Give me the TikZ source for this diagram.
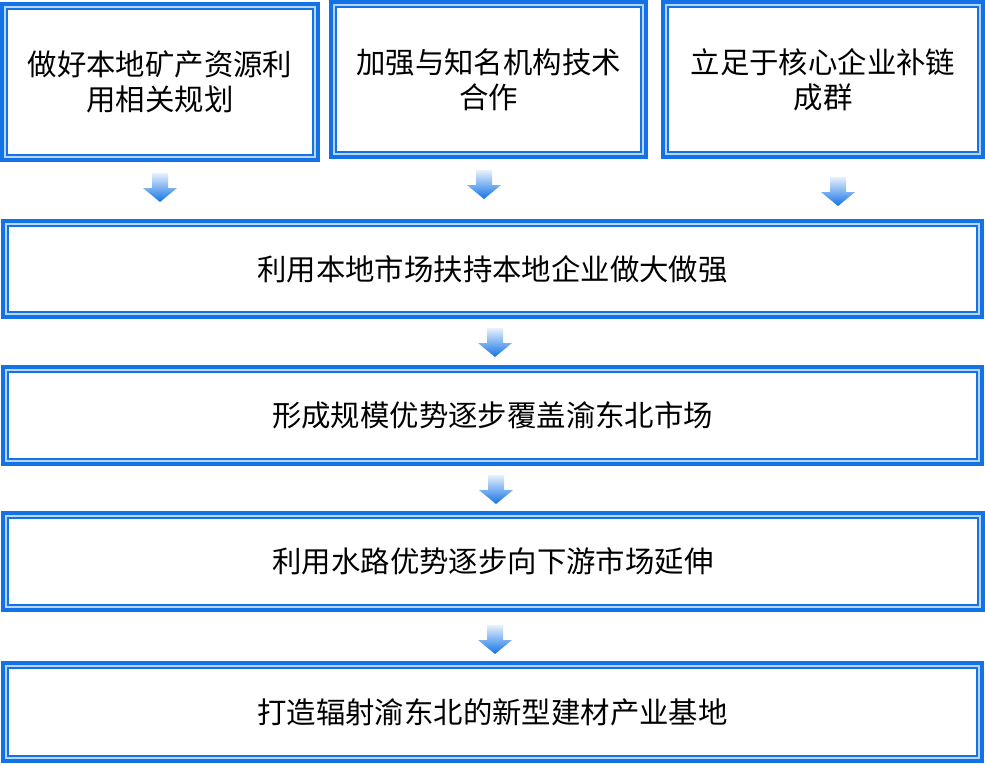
\documentclass[tikz,border=0pt]{standalone}
\usepackage{fontspec}
\newfontfamily\cjk{Noto Sans CJK SC}
\usetikzlibrary{calc}
\definecolor{bblue}{RGB}{18,115,230}
\begin{document}
\begin{tikzpicture}[x=1pt,y=-1pt,
  box/.style={draw=bblue,line width=4pt,fill=white,inner sep=0pt,outer sep=0pt,
    align=center,font=\cjk\fontsize{29.4}{35}\selectfont},
  innerline/.style={draw=bblue,line width=1.1pt},
  band/.style={draw=bblue!30,line width=1.3pt},
  flow/.style={top color=bblue!10,middle color=bblue,bottom color=bblue,draw=none},
  darrow/.pic={\shade[flow] (-8,0) -- (8,0) -- (8,15) -- (17,15) -- (0,29) -- (-17,15) -- (-8,15) -- cycle;}]
\useasboundingbox[fill=white] (0,0) rectangle (985,764);

\node[box,minimum width=316pt,minimum height=156pt] (b1) at (160,82) {做好本地矿产资源利\\用相关规划};
\node[box,minimum width=315pt,minimum height=155pt] (b2) at (488.5,79.5) {加强与知名机构技术\\合作};
\node[box,minimum width=320pt,minimum height=155pt] (b3) at (823,79.5) {立足于核心企业补链\\成群};
\node[box,minimum width=979pt,minimum height=96pt] (b4) at (492.5,269) {利用本地市场扶持本地企业做大做强};
\node[box,minimum width=979pt,minimum height=97pt] (b5) at (492.5,415.5) {形成规模优势逐步覆盖渝东北市场};
\node[box,minimum width=980pt,minimum height=97pt] (b6) at (493,561.5) {利用水路优势逐步向下游市场延伸};
\node[box,minimum width=979pt,minimum height=98pt] (b7) at (492.5,712) {打造辐射渝东北的新型建材产业基地};

\foreach \n in {b1,b2,b3,b4,b5,b6,b7}{
  \draw[band] ($(\n.north west)+(3pt,-3pt)$) rectangle ($(\n.south east)+(-3pt,3pt)$);
  \draw[innerline] ($(\n.north west)+(5pt,-5pt)$) rectangle ($(\n.south east)+(-5pt,5pt)$);
}

\pic at (160,173) {darrow};
\pic at (484,170) {darrow};
\pic at (838,177) {darrow};
\pic at (495,328) {darrow};
\pic at (496,475) {darrow};
\pic at (495,625) {darrow};
\end{tikzpicture}
\end{document}
